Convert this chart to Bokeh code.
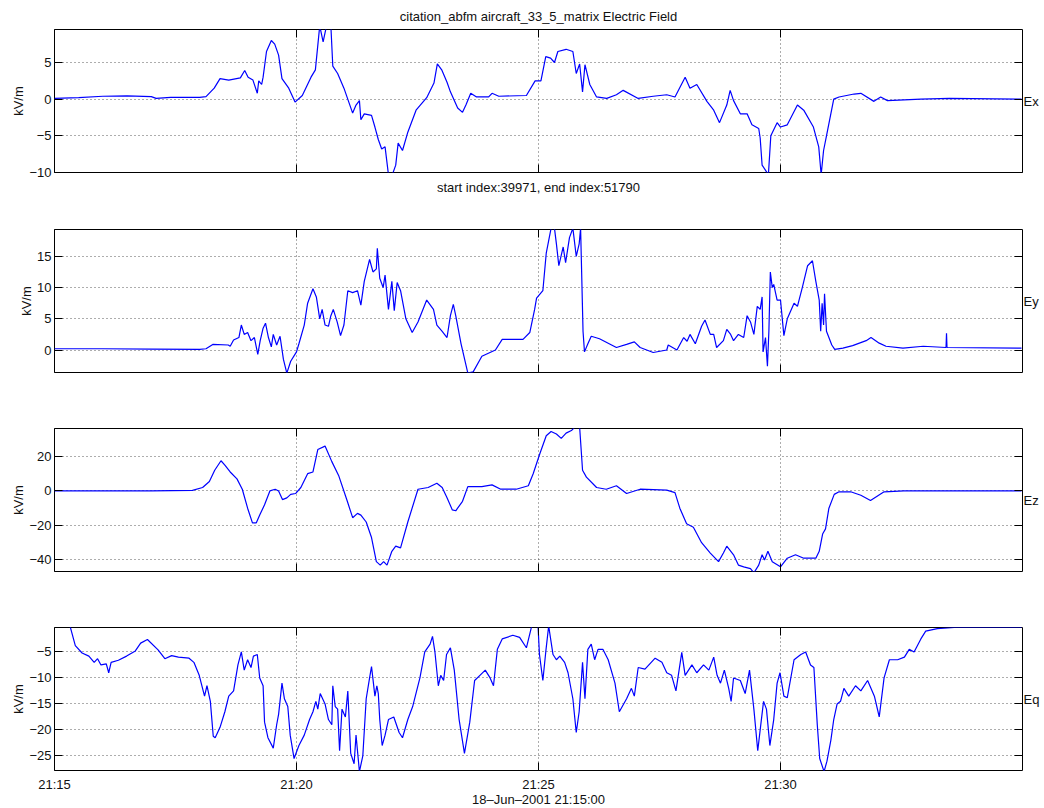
from bokeh.plotting import figure
from bokeh.layouts import column
from bokeh.models import FixedTicker, LinearAxis, Range1d
from bokeh.embed import file_html
from bokeh.resources import INLINE

# ---------------- data (minutes after 21:15:00, kV/m) ----------------
x_ticks = [0, 5, 10, 15]
x_tick_labels = ["21:15", "21:20", "21:25", "21:30"]

ex_t = [0, 0.5, 1.0, 1.5, 2.0, 2.1, 2.4, 3.0, 3.13, 3.3, 3.42, 3.6, 3.84, 3.93, 4.0, 4.1, 4.19, 4.22,
        4.28, 4.31, 4.38, 4.48, 4.55, 4.63, 4.70, 4.84, 4.97, 5.12, 5.30, 5.39, 5.48, 5.55, 5.62, 5.71,
        5.75, 5.85, 5.98, 6.16, 6.23, 6.30, 6.33, 6.40, 6.55, 6.62, 6.69, 6.76, 6.83, 6.90, 6.98, 7.05,
        7.10, 7.19, 7.30, 7.47, 7.69, 7.84, 7.91, 8.0, 8.11, 8.18, 8.33, 8.43, 8.50, 8.60, 8.72, 8.97,
        9.04, 9.18, 9.75, 9.93, 10.05, 10.15, 10.25, 10.33, 10.40, 10.57, 10.71, 10.78, 10.85, 10.91,
        10.96, 11.06, 11.20, 11.41, 11.61, 11.75, 12.06, 12.37, 12.65, 12.82, 13.03, 13.13, 13.27,
        13.48, 13.62, 13.74, 13.89, 13.96, 14.03, 14.17, 14.31, 14.41, 14.55, 14.58, 14.62, 14.75,
        14.80, 14.93, 15.0, 15.14, 15.35, 15.48, 15.68, 15.79, 15.84, 15.89, 15.95, 16.10, 16.21,
        16.52, 16.66, 16.93, 17.07, 17.21, 17.90, 18.49, 19.98]
ex_v = [0.1, 0.2, 0.4, 0.45, 0.35, 0.1, 0.25, 0.25, 0.35, 1.5, 2.8, 2.6, 2.9, 3.9, 3.0, 2.6, 0.8, 2.5,
        2.0, 3.0, 6.5, 8.0, 7.5, 6.0, 2.8, 1.5, -0.4, 0.5, 3.0, 4.0, 10.0, 7.8, 10.0, 10.0,
        4.5, 3.5, 1.5, -1.9, -0.8, -0.2, -2.8, -2.0, -2.2, -3.8, -5.5, -6.8, -6.5, -10.3, -10.3, -9.0,
        -6.0, -7.0, -4.5, -1.5, 0.2, 2.2, 4.8, 4.0, 2.3, 1.0, -1.2, -1.8, -0.8, 0.8, 0.3, 0.3,
        0.8, 0.4, 0.5, 2.5, 2.5, 5.8, 5.6, 5.0, 6.5, 6.8, 6.5, 3.5, 4.8, 1.0,
        4.7, 2.0, 0.3, 0.1, 0.6, 1.2, 0.1, 0.4, 0.6, 0.3, 3.0, 1.5, 2.0,
        -0.3, -1.5, -3.2, -0.8, 1.2, -0.2, -2.0, -2.0, -3.5, -4.0, -5.3, -9.0, -10.3,
        -5.0, -3.2, -3.8, -3.5, -0.8, -1.5, -3.8, -6.5, -10.3, -7.0, -5.0, 0.0, 0.3,
        0.7, 0.8, -0.3, 0.3, -0.2, 0.0, 0.1, 0.0]

ey_t = [0, 1.0, 2.0, 3.0, 3.13, 3.27, 3.59, 3.63, 3.70, 3.81, 3.86, 3.92, 3.99, 4.06, 4.13, 4.20, 4.25,
        4.31, 4.36, 4.42, 4.48, 4.52, 4.59, 4.66, 4.73, 4.80, 4.88, 5.0, 5.05, 5.16, 5.23, 5.34, 5.41,
        5.48, 5.53, 5.59, 5.66, 5.71, 5.76, 5.84, 5.91, 5.98, 6.06, 6.16, 6.26, 6.33, 6.40, 6.51, 6.58,
        6.65, 6.67, 6.72, 6.79, 6.83, 6.90, 6.97, 7.02, 7.08, 7.15, 7.26, 7.39, 7.51, 7.69, 7.83, 7.90,
        8.01, 8.11, 8.18, 8.24, 8.29, 8.40, 8.54, 8.65, 8.83, 9.11, 9.25, 9.68, 9.82, 9.92, 9.96,
        10.09, 10.16, 10.26, 10.33, 10.37, 10.42, 10.51, 10.56, 10.64, 10.71, 10.78, 10.84, 10.87,
        10.92, 10.95, 11.02, 11.09, 11.26, 11.61, 11.82, 11.98, 12.10, 12.37, 12.65, 12.68, 12.86,
        13.0, 13.07, 13.13, 13.24, 13.37, 13.44, 13.55, 13.62, 13.68, 13.82, 13.89, 13.97, 14.03,
        14.13, 14.24, 14.31, 14.38, 14.45, 14.52, 14.58, 14.62, 14.64, 14.69, 14.73, 14.76, 14.79,
        14.83, 14.86, 14.93, 15.0, 15.07, 15.14, 15.28, 15.35, 15.45, 15.56, 15.66, 15.73, 15.80,
        15.83, 15.86, 15.89, 15.91, 15.95, 16.06, 16.12, 16.29, 16.49, 16.77, 16.87, 17.04, 17.18,
        17.53, 17.95, 18.42, 18.43, 18.44, 19.98]
ey_v = [0.2, 0.2, 0.15, 0.1, 0.2, 0.9, 0.8, 0.6, 1.6, 2.0, 4.0, 2.5, 2.8, 1.5, 2.0, -0.7, 1.5,
        3.5, 4.3, 2.0, 0.5, 2.5, 0.8, 2.2, -1.5, -3.7, -1.8, -0.3, 1.0, 4.0, 7.5, 9.8, 8.5,
        5.0, 6.5, 4.0, 3.8, 5.5, 6.5, 4.5, 2.3, 4.0, 9.5, 9.2, 9.5, 7.2, 11.0, 14.5, 12.5,
        13.0, 16.3, 11.5, 10.0, 12.0, 6.5, 11.0, 6.3, 10.8, 9.5, 5.0, 2.8, 4.5, 8.0, 6.5, 4.0,
        3.0, 2.0, 5.5, 7.3, 5.5, 1.0, -3.7, -3.5, -1.0, 0.0, 1.7, 1.7, 2.8, 6.5, 8.3,
        9.5, 15.5, 19.5, 19.5, 17.0, 13.5, 16.5, 14.0, 18.0, 19.5, 15.0, 17.0, 19.5,
        3.0, -0.3, 1.0, 2.2, 1.8, 0.4, 0.9, 1.3, 0.4, -0.4, 0.0, 0.8, 0.0,
        2.0, 1.4, 2.5, 1.0, 3.8, 4.8, 2.5, 2.5, 0.4, 1.5, 3.3, 2.5, 1.5,
        2.5, 2.0, 5.5, 4.5, 2.5, 7.0, 6.5, 8.5, -0.3, 2.0, -2.6, 3.0, 12.5,
        10.0, 10.5, 8.0, 8.0, 2.3, 5.0, 7.5, 7.0, 10.0, 13.5, 14.3, 11.0, 8.0,
        3.0, 7.5, 4.0, 9.0, 3.0, 0.8, 0.1, 0.3, 0.7, 1.5, 2.0, 1.1, 0.6,
        0.3, 0.6, 0.4, 2.7, 0.4, 0.3]

ez_t = [0, 1, 2, 2.85, 3.06, 3.20, 3.31, 3.44, 3.52, 3.63, 3.77, 3.88, 3.99, 4.09, 4.17, 4.24, 4.34,
        4.45, 4.56, 4.63, 4.71, 4.80, 4.88, 4.98, 5.09, 5.23, 5.34, 5.44, 5.59, 5.73, 5.87, 6.05, 6.16,
        6.26, 6.33, 6.44, 6.55, 6.65, 6.73, 6.80, 6.87, 6.97, 7.05, 7.15, 7.30, 7.51, 7.72, 7.90, 8.01,
        8.11, 8.22, 8.29, 8.43, 8.54, 8.83, 9.04, 9.22, 9.54, 9.79, 9.89, 10.02, 10.16, 10.26, 10.37,
        10.47, 10.57, 10.68, 10.75, 10.85, 10.91, 10.99, 11.20, 11.40, 11.61, 11.82, 12.10, 12.65,
        12.82, 12.92, 13.06, 13.20, 13.37, 13.55, 13.72, 13.82, 13.89, 14.03, 14.13, 14.24, 14.38,
        14.45, 14.55, 14.62, 14.67, 14.74, 14.83, 15.0, 15.14, 15.31, 15.48, 15.73, 15.80, 15.87,
        15.93, 16.0, 16.11, 16.21, 16.45, 16.66, 16.86, 17.14, 17.55, 19.98]
ez_v = [0, 0, 0, 0.3, 2, 5.5, 12, 17.5, 15, 11, 7, 1, -10, -18.5, -18.5, -14, -8,
        0, 1, 0, -5, -4, -2, -1.5, 2, 10, 11, 24, 26, 17, 9, -6, -15.5,
        -13, -14, -18, -27, -41, -43, -41, -43, -35, -32, -33, -18, 1, 2, 4.5, 2,
        -4, -11, -11.5, -6, 2.5, 2.5, 3.5, 1, 1, 3, 10, 21, 32, 34.5, 33,
        30.5, 33.5, 35, 37, 37, 12, 8, 2, 1, 3, -1.5, 1, 0.5,
        -1, -10, -19, -21, -30, -36, -41, -36, -32, -37, -43, -44, -45,
        -47.5, -43, -37, -40, -35, -41, -44, -39, -37, -39, -39, -35, -25,
        -22, -10, -2, -0.5, -0.5, -2.5, -5.5, -0.5, 0, 0]

eq_t = [0, 0.32, 0.43, 0.57, 0.71, 0.82, 0.89, 0.96, 1.07, 1.12, 1.17, 1.32, 1.49, 1.67, 1.78, 1.92,
        2.14, 2.28, 2.42, 2.56, 2.78, 2.88, 2.99, 3.10, 3.15, 3.22, 3.28, 3.32, 3.42, 3.52, 3.60, 3.70,
        3.79, 3.86, 3.92, 3.99, 4.06, 4.11, 4.19, 4.24, 4.31, 4.34, 4.41, 4.52, 4.59, 4.63, 4.70, 4.75,
        4.82, 4.87, 4.95, 5.05, 5.16, 5.27, 5.34, 5.40, 5.44, 5.49, 5.59, 5.66, 5.73, 5.75, 5.80, 5.85,
        5.89, 5.94, 6.01, 6.06, 6.12, 6.19, 6.23, 6.30, 6.37, 6.44, 6.51, 6.55, 6.62, 6.66, 6.69, 6.72,
        6.77, 6.83, 6.90, 7.01, 7.12, 7.19, 7.30, 7.40, 7.55, 7.65, 7.76, 7.81, 7.86, 7.93, 7.98, 8.04,
        8.10, 8.18, 8.26, 8.36, 8.47, 8.58, 8.68, 8.79, 8.90, 9.00, 9.07, 9.15, 9.25, 9.47, 9.61, 9.75,
        9.86, 9.99, 10.02, 10.09, 10.15, 10.21, 10.30, 10.37, 10.44, 10.54, 10.61, 10.71, 10.78, 10.84,
        10.91, 10.96, 11.02, 11.09, 11.16, 11.23, 11.33, 11.44, 11.58, 11.67, 11.82, 11.92, 11.98,
        12.06, 12.20, 12.41, 12.55, 12.65, 12.75, 12.84, 12.96, 13.03, 13.17, 13.27, 13.41, 13.52,
        13.62, 13.69, 13.76, 13.84, 13.93, 13.98, 14.03, 14.17, 14.27, 14.36, 14.45, 14.53, 14.58,
        14.65, 14.71, 14.78, 14.86, 14.93, 14.99, 15.07, 15.14, 15.28, 15.42, 15.52, 15.62, 15.69,
        15.76, 15.81, 15.90, 15.96, 16.04, 16.10, 16.17, 16.24, 16.31, 16.41, 16.55, 16.66, 16.80,
        16.94, 17.04, 17.14, 17.25, 17.42, 17.56, 17.66, 17.76, 17.90, 18.0, 18.24, 18.59, 19.98]
eq_v = [0.0, 0.0, -3.8, -5.2, -5.8, -7.0, -6.3, -7.5, -7.3, -9.0, -7.0, -6.6, -5.8, -4.8, -3.3, -2.6,
        -4.6, -6.3, -5.7, -6.0, -6.2, -7.0, -9.5, -13.5, -11.5, -14.5, -21.2, -21.5, -19.5, -16.5, -13.5, -12.5,
        -7.5, -5.0, -8.5, -6.5, -8.0, -5.8, -5.5, -10.0, -11.5, -18.5, -21.5, -23.5, -19.0, -17.0, -11.0, -14.0,
        -15.5, -21.0, -25.5, -23.0, -21.0, -18.0, -16.5, -14.5, -16.0, -13.0, -15.0, -18.0, -19.0, -11.5, -15.5, -16.0,
        -24.0, -16.0, -17.5, -12.5, -24.5, -26.5, -21.0, -28.0, -25.0, -14.0, -10.0, -7.8, -13.5, -11.5, -13.0, -18.0,
        -23.0, -21.0, -18.0, -17.5, -20.5, -21.5, -18.0, -15.5, -10.0, -5.0, -3.5, -2.0, -5.0, -11.5, -9.5, -10.5,
        -5.5, -4.2, -8.5, -18.0, -24.5, -18.5, -10.5, -9.5, -8.5, -10.0, -11.5, -4.5, -2.5, -1.8, -2.2, -4.2,
        0.0, 0.0, -5.5, -10.5, -5.0, 0.0, -5.5, -6.5, -5.8, -7.0, -9.0, -14.0, -20.5, -16.5,
        -7.0, -14.0, -4.5, -3.5, -6.5, -4.5, -4.5, -6.5, -11.0, -16.5, -14.0, -12.0, -13.5,
        -8.0, -8.3, -6.2, -7.0, -9.0, -9.5, -12.5, -5.1, -9.5, -7.5, -9.0, -7.5, -8.5,
        -6.0, -9.5, -11.0, -8.5, -12.0, -14.5, -10.0, -10.5, -13.0, -8.5, -16.0, -24.0, -20.0,
        -14.5, -16.0, -23.0, -18.0, -11.0, -9.0, -13.5, -13.8, -6.5, -5.5, -5.0, -7.5, -8.0,
        -19.0, -25.5, -28.0, -26.0, -22.0, -18.0, -15.0, -14.5, -12.0, -13.5, -11.5, -12.5, -10.5,
        -13.5, -17.5, -10.0, -6.5, -6.5, -6.0, -4.5, -5.0, -2.5, -1.0, -0.5, -0.3, -0.3]

panel_names = ["Ex", "Ey", "Ez", "Eq"]
y_limits = [(-10, 9.5), (-3.6, 19.3), (-46.7, 36.2), (-27.8, -0.3)]
y_ticks = [[-10, -5, 0, 5], [0, 5, 10, 15], [-40, -20, 0, 20], [-25, -20, -15, -10, -5]]

title_text = "citation_abfm aircraft_33_5_matrix Electric Field"
index_text = "start index:39971, end index:51790"
date_text = "18\u2013Jun\u20132001 21:15:00"
y_unit = "kV/m"

FONT = "Liberation Sans"
FS = "13px"
TXT = "#111111"


def lab(v):
    s = ("%g" % v)
    return s.replace("-", "\u2212")


def hide_labels(ax):
    ax.major_label_text_font_size = "0px"
    ax.major_label_text_color = None
    ax.major_label_standoff = 0


def make_panel(t, v, idx, top, bottom):
    p = figure(frame_width=968, frame_height=143,
               x_range=Range1d(0, 20), y_range=Range1d(*y_limits[idx]),
               output_backend="svg", toolbar_location=None,
               min_border_left=54, min_border_right=22,
               min_border_top=top, min_border_bottom=bottom,
               outline_line_color="black", outline_line_width=1,
               background_fill_color="white", border_fill_color="white")
    p.line(t, v, line_color="#0000ff", line_width=1.2)

    xt = FixedTicker(ticks=x_ticks)
    yt = FixedTicker(ticks=y_ticks[idx])

    # bottom axis
    xa = p.xaxis[0]
    xa.ticker = xt
    xa.major_label_overrides = {k: s for k, s in zip(x_ticks, x_tick_labels)}
    xa.major_tick_in = 8
    xa.major_tick_out = 0
    xa.minor_tick_line_color = None
    xa.axis_line_color = None
    xa.major_tick_line_color = "black"
    xa.major_label_text_font = FONT
    xa.major_label_text_color = TXT
    xa.axis_label_text_font = FONT
    xa.axis_label_text_font_size = FS
    xa.axis_label_text_font_style = "normal"
    xa.axis_label_text_color = TXT
    if idx == 3:
        xa.major_label_text_font_size = FS
        xa.major_label_standoff = 6
        xa.axis_label = date_text
        xa.axis_label_standoff = -3
    else:
        hide_labels(xa)
        if idx == 0:
            xa.axis_label = index_text
            xa.axis_label_standoff = 7

    # left axis
    ya = p.yaxis[0]
    ya.ticker = yt
    ya.major_label_overrides = {k: lab(k) for k in y_ticks[idx]}
    ya.major_tick_in = 8
    ya.major_tick_out = 0
    ya.minor_tick_line_color = None
    ya.axis_line_color = None
    ya.major_label_standoff = 3
    ya.major_label_text_font = FONT
    ya.major_label_text_font_size = FS
    ya.major_label_text_color = TXT
    ya.axis_label = y_unit
    ya.axis_label_standoff = 0
    ya.axis_label_text_font = FONT
    ya.axis_label_text_font_size = FS
    ya.axis_label_text_font_style = "normal"
    ya.axis_label_text_color = TXT

    # top axis (ticks only)
    ta = LinearAxis(ticker=xt, major_tick_in=8, major_tick_out=0,
                    minor_tick_line_color=None, axis_line_color=None)
    hide_labels(ta)
    p.add_layout(ta, "above")

    # right axis (ticks + series name)
    ra = LinearAxis(ticker=yt, major_tick_in=8, major_tick_out=0,
                    minor_tick_line_color=None, axis_line_color=None,
                    axis_label=panel_names[idx], axis_label_orientation="horizontal",
                    axis_label_standoff=1, axis_label_text_font=FONT,
                    axis_label_text_font_size=FS, axis_label_text_font_style="normal",
                    axis_label_text_color=TXT)
    hide_labels(ra)
    p.add_layout(ra, "right")

    for g in (p.xgrid[0], p.ygrid[0]):
        g.grid_line_color = "#333333"
        g.grid_line_dash = "1 3"
        g.grid_line_width = 1
        g.grid_line_alpha = 0.8
    p.xgrid[0].ticker = xt
    p.ygrid[0].ticker = yt

    if idx == 0:
        p.title.text = title_text
        p.title.align = "center"
        p.title.text_font = FONT
        p.title.text_font_size = FS
        p.title.text_font_style = "normal"
        p.title.text_color = TXT
        p.title.standoff = 12
    return p


p1 = make_panel(ex_t, ex_v, 0, 29, 35)
p2 = make_panel(ey_t, ey_v, 1, 22, 34)
p3 = make_panel(ez_t, ez_v, 2, 22, 34)
p4 = make_panel(eq_t, eq_v, 3, 22, 38)

layout = column(p1, p2, p3, p4, spacing=0)
open("out.html", "w").write(file_html(layout, INLINE))
